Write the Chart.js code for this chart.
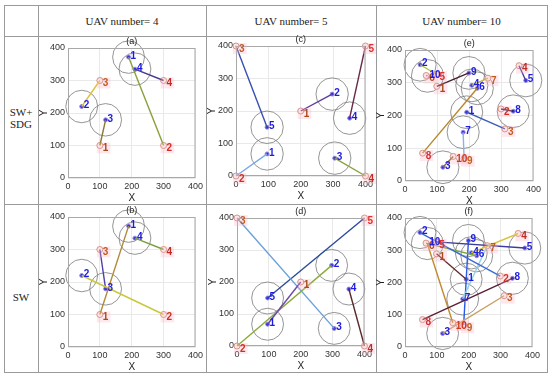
<!DOCTYPE html>
<html>
<head>
<meta charset="utf-8">
<script src="https://cdn.jsdelivr.net/npm/chart.js@4.4.1/dist/chart.umd.min.js"></script>
<style>
  body { margin: 0; background: #fff; }
  #page { position: relative; width: 550px; height: 377px; overflow: hidden; font-family: "Liberation Serif", serif; }
  .hl { position: absolute; height: 1px; background: #9a9a9a; }
  .vl { position: absolute; width: 1px; background: #9a9a9a; }
  .txt { position: absolute; font-size: 11px; color: #222; text-align: center; line-height: 12px; }
  canvas { position: absolute; }
</style>
</head>
<body>
<div id="page">
  <div class="hl" style="left:4px;top:5px;width:544px"></div>
  <div class="hl" style="left:4px;top:36px;width:544px"></div>
  <div class="hl" style="left:4px;top:204px;width:544px"></div>
  <div class="hl" style="left:4px;top:372px;width:544px"></div>
  <div class="vl" style="left:4px;top:5px;height:368px"></div>
  <div class="vl" style="left:38px;top:5px;height:368px"></div>
  <div class="vl" style="left:206px;top:5px;height:368px"></div>
  <div class="vl" style="left:376px;top:5px;height:368px"></div>
  <div class="vl" style="left:547px;top:5px;height:368px"></div>

  <div class="txt" style="left:38px;width:168px;top:15px">UAV number= 4</div>
  <div class="txt" style="left:206px;width:170px;top:15px">UAV number= 5</div>
  <div class="txt" style="left:376px;width:171px;top:15px">UAV number= 10</div>
  <div class="txt" style="left:4px;width:34px;top:106px">SW+<br>SDG</div>
  <div class="txt" style="left:4px;width:34px;top:291px">SW</div>
</div>
<script>
// tick labels and sensing radius
const axisTicks = [0, 100, 200, 300, 400];
const sensorRange = 50;

// UAV number = 4  (uav / target positions, index = label - 1)
const uavPos4 = [[190, 372], [43, 220], [118, 179], [210, 335]];
const targetPos4 = [[100, 100], [300, 100], [100, 300], [300, 300]];
const assignA = [[1, 2], [2, 3], [3, 1], [4, 4]];
const assignB = [[1, 1], [2, 2], [3, 3], [4, 4]];

// UAV number = 5
const uavPos5 = [[96, 68], [297, 252], [305, 55], [351, 178], [96, 150]];
const targetPos5 = [[200, 200], [0, 0], [0, 400], [400, 0], [400, 400]];
const assignC = [[1, 2], [2, 1], [3, 4], [4, 5], [5, 3]];
const assignD = [[1, 1], [2, 2], [3, 3], [4, 4], [5, 5]];

// UAV number = 10
const uavPos10 = [[192, 210], [47, 355], [118, 42], [208, 292], [376, 307],
                  [225, 283], [181, 149], [337, 213], [199, 330], [70, 321]];
const targetPos10 = [[99, 289], [299, 220], [311, 159], [355, 352], [98, 326],
                     [66, 322], [258, 314], [55, 85], [184, 68], [150, 75]];
const assignE = [[1, 3], [2, 5], [3, 10], [4, 7], [5, 4], [6, 8], [7, 9], [8, 2], [9, 1], [10, 6]];
const assignF = [[1, 1], [2, 2], [3, 3], [4, 4], [5, 5], [6, 6], [7, 7], [8, 8], [9, 9], [10, 10]];

// line colours, one per assignment
const colorsA = ['#8aa03a', '#e0c040', '#8a7a30', '#4a3a90'];
const colorsB = ['#b08a3a', '#c8c83a', '#5040a8', '#7aa040'];
const colorsC = ['#7aa8e8', '#5a3a9a', '#8aa040', '#6a2a4a', '#3a50b0'];
const colorsD = ['#6a4aa8', '#8aaa3a', '#6aa0d8', '#5a2a2a', '#2a4a9a'];
const colorsE = ['#3a5ab8', '#a8c23e', '#8a6a34', '#c0b43a', '#4a3a8e', '#b8862c', '#8ab0f0', '#26265a', '#4a1e2e', '#b04ab0'];
const colorsF = ['#6a2a2a', '#3a6ad6', '#c8a060', '#dcc23a', '#3c3c9c', '#7aa83e', '#8cd0ec', '#5a2034', '#2a5ae6', '#c08a30'];
const targetTextColors = ['#a84a20', '#d03024', '#c05a20', '#c02a22', '#e03030', '#b04a20', '#c05a20', '#d03030', '#c06020', '#d03a20'];

Chart.defaults.font.family = '"Liberation Sans", Arial, sans-serif';

const panels = [
  { title: '(a)', uav: uavPos4, tgt: targetPos4, assign: assignA, colors: colorsA, box: [68, 48, 127, 130] },
  { title: '(b)', uav: uavPos4, tgt: targetPos4, assign: assignB, colors: colorsB, box: [68, 217, 127, 130] },
  { title: '(c)', uav: uavPos5, tgt: targetPos5, assign: assignC, colors: colorsC, box: [236, 46, 129, 130] },
  { title: '(d)', uav: uavPos5, tgt: targetPos5, assign: assignD, colors: colorsD, box: [237, 218, 127, 128] },
  { title: '(e)', uav: uavPos10, tgt: targetPos10, assign: assignE, colors: colorsE, box: [405, 50, 128, 131] },
  { title: '(f)', uav: uavPos10, tgt: targetPos10, assign: assignF, colors: colorsF, box: [405, 218, 127, 129] }
];

function decor(p) {
  return {
    id: 'decor',
    beforeDatasetsDraw(chart) {
      const { ctx, scales: { x, y } } = chart;
      const rx = Math.abs(x.getPixelForValue(sensorRange) - x.getPixelForValue(0));
      const ry = Math.abs(y.getPixelForValue(sensorRange) - y.getPixelForValue(0));
      ctx.save();
      ctx.strokeStyle = '#7a7a7a';
      ctx.lineWidth = 0.8;
      p.uav.forEach(([ux, uy]) => {
        ctx.beginPath();
        ctx.ellipse(x.getPixelForValue(ux), y.getPixelForValue(uy), rx, ry, 0, 0, Math.PI * 2);
        ctx.stroke();
      });
      ctx.restore();
    },
    afterDatasetsDraw(chart) {
      const { ctx, chartArea: ca, scales: { x, y } } = chart;
      ctx.save();
      // axes box
      ctx.strokeStyle = '#a8a8a8';
      ctx.lineWidth = 1;
      ctx.strokeRect(ca.left + 0.5, ca.top + 0.5, ca.right - ca.left - 1, ca.bottom - ca.top - 1);
      ctx.font = 'bold 10px "Liberation Sans", Arial, sans-serif';
      ctx.textBaseline = 'middle';
      ctx.textAlign = 'left';
      // target labels
      p.tgt.forEach(([tx, ty], i) => {
        const px = x.getPixelForValue(tx), py = y.getPixelForValue(ty);
        const s = String(i + 1);
        const w = ctx.measureText(s).width;
        ctx.fillStyle = 'rgba(255,180,195,0.3)';
        ctx.fillRect(px - 3, py - 3, w + 8, 11);
      });
      p.tgt.forEach(([tx, ty], i) => {
        ctx.fillStyle = targetTextColors[i];
        ctx.fillText(String(i + 1), x.getPixelForValue(tx) + 3, y.getPixelForValue(ty) + 3);
      });
      // uav labels
      ctx.fillStyle = '#1c1ce0';
      p.uav.forEach(([ux, uy], i) => {
        ctx.fillText(String(i + 1), x.getPixelForValue(ux) + 2, y.getPixelForValue(uy) - 1);
      });
      // panel title
      ctx.fillStyle = '#222';
      ctx.font = '9px "Liberation Sans", Arial, sans-serif';
      ctx.textAlign = 'center';
      ctx.fillText(p.title, (ca.left + ca.right) / 2, ca.top - 6);
      ctx.restore();
    }
  };
}

function buildConfig(p) {
  const datasets = [];
  p.assign.forEach(([u, t], i) => {
    datasets.push({
      data: [{ x: p.uav[u - 1][0], y: p.uav[u - 1][1] }, { x: p.tgt[t - 1][0], y: p.tgt[t - 1][1] }],
      showLine: true,
      borderColor: p.colors[i],
      borderWidth: 1.4,
      pointRadius: 0,
      clip: false
    });
  });
  datasets.push({
    data: p.tgt.map(([tx, ty]) => ({ x: tx, y: ty })),
    pointRadius: 3,
    borderColor: '#c98a7a',
    backgroundColor: '#fff6f0',
    borderWidth: 1,
    clip: false
  });
  datasets.push({
    data: p.uav.map(([ux, uy]) => ({ x: ux, y: uy })),
    pointRadius: 2,
    backgroundColor: '#3434e0',
    borderColor: '#9b86e0',
    borderWidth: 1,
    clip: false
  });
  const tickFont = { size: 9 };
  return {
    type: 'scatter',
    data: { datasets },
    options: {
      responsive: false,
      maintainAspectRatio: false,
      animation: false,
      events: [],
      layout: { padding: { top: 12, right: 2, left: 0, bottom: 0 } },
      plugins: { legend: { display: false }, tooltip: { enabled: false } },
      scales: {
        x: {
          type: 'linear', min: 0, max: 400,
          afterBuildTicks: s => { s.ticks = axisTicks.map(v => ({ value: v })); },
          afterFit: s => { s.height = 26; },
          grid: { color: '#e9e9e9', drawTicks: false },
          border: { display: false },
          ticks: { padding: 3, maxRotation: 0, autoSkip: false, color: '#333', font: tickFont },
          title: { display: true, text: 'X', color: '#222', font: { size: 10 }, padding: 0 }
        },
        y: {
          type: 'linear', min: 0, max: 400,
          afterBuildTicks: s => { s.ticks = axisTicks.map(v => ({ value: v })); },
          afterFit: s => { s.width = 30; },
          grid: { color: '#e9e9e9', drawTicks: false },
          border: { display: false },
          ticks: { padding: 3, autoSkip: false, color: '#333', font: tickFont },
          title: { display: true, text: 'Y', color: '#222', font: { size: 10 }, padding: 0 }
        }
      }
    },
    plugins: [decor(p)]
  };
}

const page = document.getElementById('page');
panels.forEach(p => {
  const [bx, by, bw, bh] = p.box;
  // first pass: measure how much room the axes take
  let cv = document.createElement('canvas');
  cv.width = bw + 60; cv.height = bh + 50;
  page.appendChild(cv);
  let chart = new Chart(cv, buildConfig(p));
  const ca = chart.chartArea;
  const w = cv.width + bw - Math.round(ca.right - ca.left);
  const h = cv.height + bh - Math.round(ca.bottom - ca.top);
  chart.destroy();
  page.removeChild(cv);
  // second pass at the corrected size
  cv = document.createElement('canvas');
  cv.width = w; cv.height = h;
  cv.style.width = w + 'px'; cv.style.height = h + 'px';
  page.appendChild(cv);
  chart = new Chart(cv, buildConfig(p));
  cv.style.left = Math.round(bx - chart.chartArea.left) + 'px';
  cv.style.top = Math.round(by - chart.chartArea.top) + 'px';
});
</script>
</body>
</html>
